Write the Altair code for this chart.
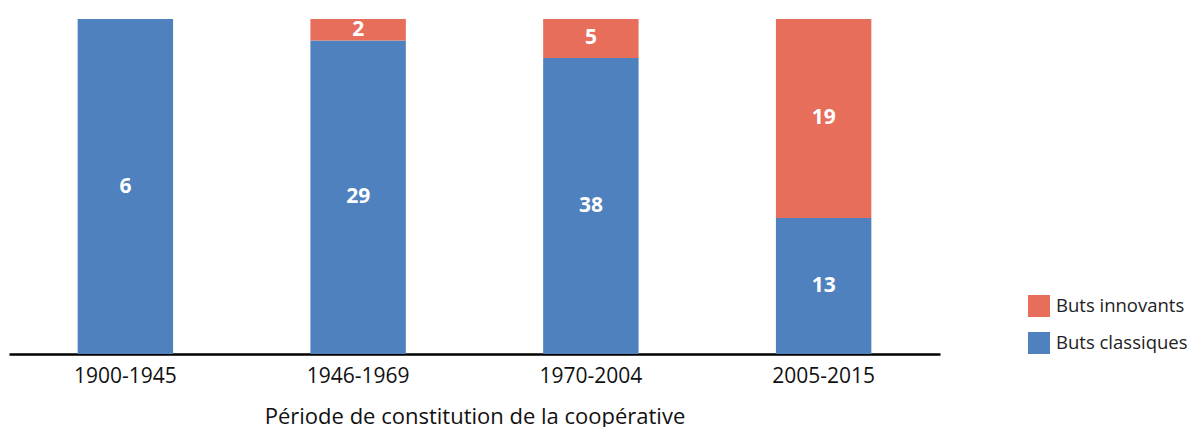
import altair as alt
import pandas as pd

periods = ["1900-1945", "1946-1969", "1970-2004", "2005-2015"]
classiques = [6, 29, 38, 13]
innovants = [0, 2, 5, 19]
series = ["Buts classiques", "Buts innovants"]
colors = ["#4e81bd", "#e86e5c"]

rows = []
for p, c, i in zip(periods, classiques, innovants):
    rows.append({"period": p, "type": series[0], "value": c, "ord": 0})
    rows.append({"period": p, "type": series[1], "value": i, "ord": 1})
df = pd.DataFrame(rows)

FONT = "Open Sans"

base = alt.Chart(df).transform_stack(
    stack="value",
    groupby=["period"],
    as_=["y0", "y1"],
    offset="normalize",
    sort=[alt.SortField("ord", order="ascending")],
).transform_calculate(mid="(datum.y0 + datum.y1) / 2")

xenc = alt.X(
    "period:N",
    sort=periods,
    scale=alt.Scale(paddingInner=0.59, paddingOuter=0.295),
    axis=alt.Axis(
        title="Période de constitution de la coopérative",
        labelAngle=0,
        ticks=False,
        domainColor="#000000",
        domainWidth=2.5,
        labelFont=FONT,
        labelFontSize=21,
        labelColor="#111111",
        labelPadding=11,
        titleFont=FONT,
        titleFontSize=22,
        titleFontWeight="normal",
        titleColor="#111111",
        titlePadding=20,
    ),
)

bars = base.mark_bar().encode(
    x=xenc,
    y=alt.Y("y0:Q", scale=alt.Scale(domain=[0, 1]), axis=None),
    y2="y1:Q",
    color=alt.Color(
        "type:N",
        scale=alt.Scale(domain=series, range=colors),
        sort=["Buts innovants", "Buts classiques"],
        legend=alt.Legend(
            title=None,
            orient="none",
            legendX=1019,
            legendY=276,
            symbolType="square",
            symbolSize=484,
            symbolStrokeWidth=0,
            symbolOpacity=1,
            labelFont=FONT,
            labelFontSize=18.5,
            labelColor="#222222",
            labelOffset=6,
            rowPadding=15,
            values=["Buts innovants", "Buts classiques"],
        ),
    ),
)

labels = base.transform_filter("datum.value > 0").mark_text(
    font=FONT, fontSize=21, fontWeight="bold", color="white"
).encode(
    x=alt.X("period:N", sort=periods),
    y=alt.Y("mid:Q"),
    text="value:Q",
)

chart = alt.layer(bars, labels).properties(
    width=931, height=335,
    padding={"left": 1, "top": 10, "right": 0, "bottom": 0},
).configure_view(stroke=None).configure_axis(grid=False)

chart.save("out.html", embed_options={"renderer": "svg", "actions": False})
